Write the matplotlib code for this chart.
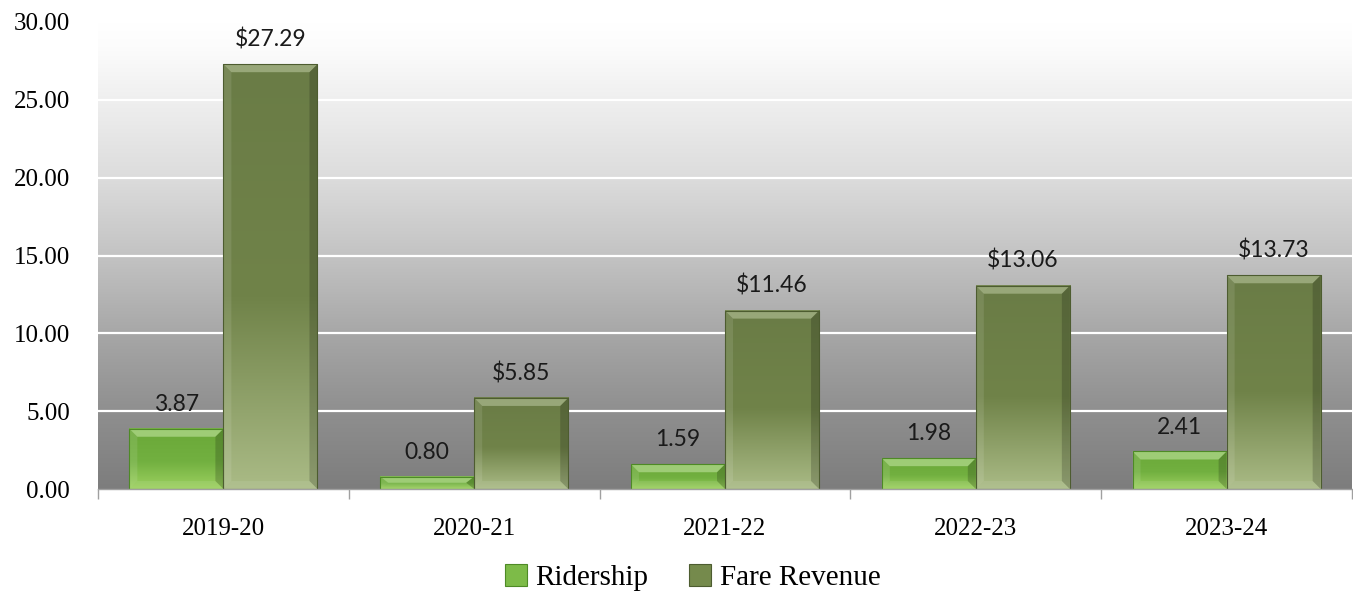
import numpy as np
import matplotlib
matplotlib.use("Agg")
import matplotlib.pyplot as plt
from matplotlib.colors import LinearSegmentedColormap, to_rgb
from matplotlib.patches import Polygon, Patch

# ── data ──────────────────────────────────────────────────────────────────────
years        = ["2019-20", "2020-21", "2021-22", "2022-23", "2023-24"]
ridership    = [3.87, 0.80, 1.59, 1.98, 2.41]
fare_revenue = [27.29, 5.85, 11.46, 13.06, 13.73]
yticks       = [0, 5, 10, 15, 20, 25, 30]

# ── styling ───────────────────────────────────────────────────────────────────
SERIF = ["Liberation Serif", "DejaVu Serif"]
LABEL_FONT = ["Lato", "DejaVu Sans"]
BAR_W = 0.375
BEVEL_PX = 8

STYLES = {
    "Ridership": dict(bottom="#9dd160", mid="#72b040", top="#6aa838",
                      edge="#4e8a26", face="#7dbb48"),
    "Fare Revenue": dict(bottom="#aabb86", mid="#708349", top="#6a7c46",
                         edge="#4d5c30", face="#758a4c"),
}

# background shading, value -> grey level
BG_STOPS = [(0, "#7d7d7d"), (5, "#8f8f8f"), (10, "#a7a7a7"), (15, "#c3c3c3"),
            (20, "#dcdcdc"), (25, "#efefef"), (28.4, "#fcfcfc"), (30, "#ffffff")]


def shade(c, f):
    r = np.array(to_rgb(c))
    if f >= 0:
        return tuple(r + (1 - r) * f)
    return tuple(r * (1 + f))


def bevel_bar(ax, x0, w, h, st, ppx, ppy):
    x1 = x0 + w
    cmap = LinearSegmentedColormap.from_list(
        "bar", [(0, st["bottom"]), (0.45, st["mid"]), (1, st["top"])])
    grad = np.linspace(0, 1, 256).reshape(-1, 1)
    ax.imshow(grad, extent=(x0, x1, 0, h), origin="lower", cmap=cmap,
              aspect="auto", interpolation="bilinear", zorder=3)

    dx = BEVEL_PX / ppx
    dy = min(BEVEL_PX / ppy, h / 2)
    faces = [
        ([(x0, h), (x1, h), (x1 - dx, h - dy), (x0 + dx, h - dy)], shade(st["face"], 0.25)),
        ([(x0, 0), (x0, h), (x0 + dx, h - dy), (x0 + dx, dy)], None),
        ([(x1, 0), (x1, h), (x1 - dx, h - dy), (x1 - dx, dy)], None),
        ([(x0, 0), (x1, 0), (x1 - dx, dy), (x0 + dx, dy)], None),
    ]
    # top facet solid, side facets as translucent tints over the gradient
    ax.add_patch(Polygon(faces[0][0], closed=True, facecolor=faces[0][1],
                         edgecolor="none", zorder=4))
    ax.add_patch(Polygon(faces[1][0], closed=True, facecolor="white",
                         alpha=0.10, edgecolor="none", zorder=4))
    ax.add_patch(Polygon(faces[2][0], closed=True, facecolor="black",
                         alpha=0.18, edgecolor="none", zorder=4))
    ax.add_patch(Polygon(faces[3][0], closed=True, facecolor="white",
                         alpha=0.08, edgecolor="none", zorder=4))
    ax.add_patch(Polygon([(x0, 0), (x0, h), (x1, h), (x1, 0)], closed=True,
                         facecolor="none", edgecolor=st["edge"], linewidth=0.8,
                         zorder=5))


fig = plt.figure(figsize=(13.53, 5.97), dpi=100)
ax = fig.add_axes([98 / 1353, 1 - 489 / 597, 1254 / 1353, 467 / 597])
ax.set_xlim(-0.5, len(years) - 0.5)
ax.set_ylim(0, 30)

# pixels per data unit, used for the bevel width
(px0, py0), (px1, py1) = ax.transData.transform([(0, 0), (1, 1)])
ppx, ppy = px1 - px0, py1 - py0

# background gradient
vals = np.linspace(0, 30, 400)
stops_v = [v for v, _ in BG_STOPS]
stops_c = np.array([to_rgb(c) for _, c in BG_STOPS])
bg = np.stack([np.interp(vals, stops_v, stops_c[:, i]) for i in range(3)], axis=-1)
ax.imshow(bg[:, None, :], extent=(-0.5, len(years) - 0.5, 0, 30), origin="lower",
          aspect="auto", interpolation="bilinear", zorder=0)

for y in yticks[1:-1]:
    ax.axhline(y, color="white", linewidth=1.6, zorder=1)

x = np.arange(len(years))
for i in x:
    for off, name, vals_, fmt in [(-BAR_W, "Ridership", ridership, "{:.2f}"),
                                  (0.0, "Fare Revenue", fare_revenue, "${:.2f}")]:
        v = vals_[i]
        bevel_bar(ax, i + off, BAR_W, v, STYLES[name], ppx, ppy)
        ax.annotate(fmt.format(v), (i + off + BAR_W / 2, v), xytext=(0, 10),
                    textcoords="offset points", ha="center", va="bottom",
                    fontsize=16.5, family=LABEL_FONT, color="#1a1a1a", zorder=6)

ax.set_xlim(-0.5, len(years) - 0.5)
ax.set_ylim(0, 30)

for s in ["left", "right", "top"]:
    ax.spines[s].set_visible(False)
ax.spines["bottom"].set_color("#a0a0a0")
ax.spines["bottom"].set_linewidth(1.0)
ax.spines["bottom"].set_zorder(6)

ax.set_xticks(x)
ax.set_xticklabels(years, family=SERIF, fontsize=18)
ax.set_xticks(np.arange(-0.5, len(years)), minor=True)
ax.tick_params(axis="x", which="major", length=0, pad=21)
ax.tick_params(axis="x", which="minor", length=7, width=1.0, color="#a0a0a0")

ax.set_yticks(yticks)
ax.set_yticklabels([f"{t:.2f}" for t in yticks], family=SERIF, fontsize=18)
ax.tick_params(axis="y", length=0, pad=20)

handles = [Patch(facecolor=STYLES[n]["face"], edgecolor=STYLES[n]["edge"], linewidth=0.8)
           for n in STYLES]
fig.legend(handles, list(STYLES), loc="center", bbox_to_anchor=(0.512, 0.032),
           ncol=2, frameon=False, prop=dict(family=SERIF, size=21),
           handlelength=0.75, handleheight=0.75, handletextpad=0.3, columnspacing=1.4)

fig.savefig("out.png", dpi=100)
